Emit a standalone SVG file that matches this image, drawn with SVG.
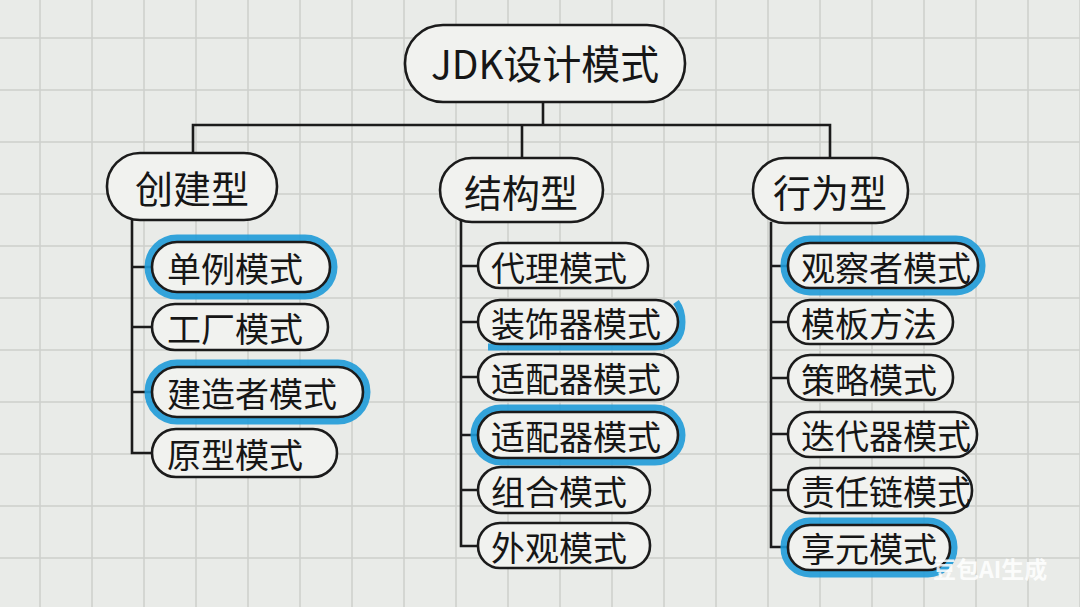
<svg xmlns="http://www.w3.org/2000/svg" width="1080" height="607" viewBox="0 0 1080 607">
<defs>
<pattern id="grid" x="0" y="0" width="52" height="52" patternUnits="userSpaceOnUse">
<path d="M 40 0 V 52 M 0 38 H 52" fill="none" stroke="#cdd0cc" stroke-width="1.5"/>
</pattern>
<style>
.bg{fill:#e9ebe8}
.box{fill:#f1f2ef;stroke:#1b1b1b;stroke-width:2.6}
.hl{fill:none;stroke:#1f9bd8;stroke-width:7;opacity:0.9}
.ln{fill:none;stroke:#1b1b1b;stroke-width:2.6;stroke-linecap:square}
text{font-family:"Noto Sans CJK SC","Noto Sans",sans-serif;fill:#161616;dominant-baseline:central}
.t1{font-size:40px}
.t2{font-size:38px;text-anchor:middle}
.t3{font-size:34px}
.wm{font-size:23px;font-weight:bold;fill:#ffffff;opacity:0.85}
</style>
</defs>
<rect class="bg" width="1080" height="607"/>
<rect width="1080" height="607" fill="url(#grid)"/>

<g id="connectors">
<path class="ln" d="M543 102 V125 M193 125 H830 M193 125 V153 M522 125 V158 M830 125 V158"/>
<path class="ln" d="M132 220 V453 M132 267 H152 M132 327 H152 M132 392 H152 M132 453 H152"/>
<path class="ln" d="M461 222 V546 M461 266 H478 M461 322 H478 M461 377 H478 M461 435 H478 M461 490 H478 M461 546 H478"/>
<path class="ln" d="M771 223 V547 M771 266 H788 M771 322 H788 M771 378 H788 M771 434 H788 M771 490 H788 M771 547 H788"/>
</g>

<g id="root">
<rect class="box" x="405" y="25" width="280" height="77" rx="38"/>
<text class="t1" x="545" y="62" text-anchor="middle" textLength="228" lengthAdjust="spacingAndGlyphs">JDK设计模式</text>
</g>

<g id="cat-create">
<rect class="box" x="107" y="153" width="170" height="67" rx="33"/>
<text class="t2" x="192" y="186">创建型</text>
</g>
<g id="cat-struct">
<rect class="box" x="440" y="158" width="163" height="64" rx="32"/>
<text class="t2" x="521" y="190">结构型</text>
</g>
<g id="cat-behav">
<rect class="box" x="753" y="158" width="155" height="65" rx="32"/>
<text class="t2" x="830" y="190">行为型</text>
</g>

<g id="singleton">
<rect class="hl" x="148" y="238" width="186" height="58" rx="29"/>
<rect class="box" x="152" y="242" width="178" height="50" rx="25"/>
<text class="t3" x="167" y="267">单例模式</text>
</g>
<g id="factory">
<rect class="box" x="152" y="304" width="176" height="46" rx="23"/>
<text class="t3" x="167" y="327">工厂模式</text>
</g>
<g id="builder">
<rect class="hl" x="148" y="363" width="219" height="58" rx="29"/>
<rect class="box" x="152" y="367" width="211" height="50" rx="25"/>
<text class="t3" x="167" y="392">建造者模式</text>
</g>
<g id="prototype">
<rect class="box" x="152" y="429" width="185" height="48" rx="24"/>
<text class="t3" x="167" y="453">原型模式</text>
</g>

<g id="proxy">
<rect class="box" x="478" y="243" width="170" height="45" rx="22"/>
<text class="t3" x="491" y="266">代理模式</text>
</g>
<g id="decorator">
<path class="hl" d="M488 347 H655 Q682 347 682 322 Q682 310 676 302" stroke-width="5"/>
<rect class="box" x="478" y="300" width="200" height="44" rx="22"/>
<text class="t3" x="491" y="322">装饰器模式</text>
</g>
<g id="adapter1">
<rect class="box" x="478" y="354" width="200" height="46" rx="23"/>
<text class="t3" x="491" y="377">适配器模式</text>
</g>
<g id="adapter2">
<rect class="hl" x="474" y="408" width="208" height="54" rx="27"/>
<rect class="box" x="478" y="412" width="200" height="46" rx="23"/>
<text class="t3" x="491" y="435">适配器模式</text>
</g>
<g id="composite">
<rect class="box" x="478" y="467" width="172" height="46" rx="23"/>
<text class="t3" x="491" y="490">组合模式</text>
</g>
<g id="facade">
<rect class="box" x="478" y="523" width="172" height="45" rx="22"/>
<text class="t3" x="491" y="546">外观模式</text>
</g>

<g id="observer">
<rect class="hl" x="784" y="239" width="198" height="53" rx="26"/>
<rect class="box" x="788" y="243" width="190" height="45" rx="22"/>
<text class="t3" x="801" y="266">观察者模式</text>
</g>
<g id="template">
<rect class="box" x="788" y="300" width="165" height="44" rx="22"/>
<text class="t3" x="801" y="322">模板方法</text>
</g>
<g id="strategy">
<rect class="box" x="788" y="355" width="165" height="45" rx="22"/>
<text class="t3" x="801" y="378">策略模式</text>
</g>
<g id="iterator">
<rect class="box" x="788" y="412" width="189" height="45" rx="22"/>
<text class="t3" x="801" y="434">迭代器模式</text>
</g>
<g id="chain">
<rect class="box" x="788" y="468" width="184" height="45" rx="22"/>
<text class="t3" x="801" y="490">责任链模式</text>
</g>
<g id="flyweight">
<rect class="hl" x="784" y="521" width="170" height="53" rx="26"/>
<rect class="box" x="788" y="525" width="162" height="45" rx="22"/>
<text class="t3" x="801" y="547">享元模式</text>
</g>

<text class="wm" x="933" y="568">豆包AI生成</text>
</svg>
